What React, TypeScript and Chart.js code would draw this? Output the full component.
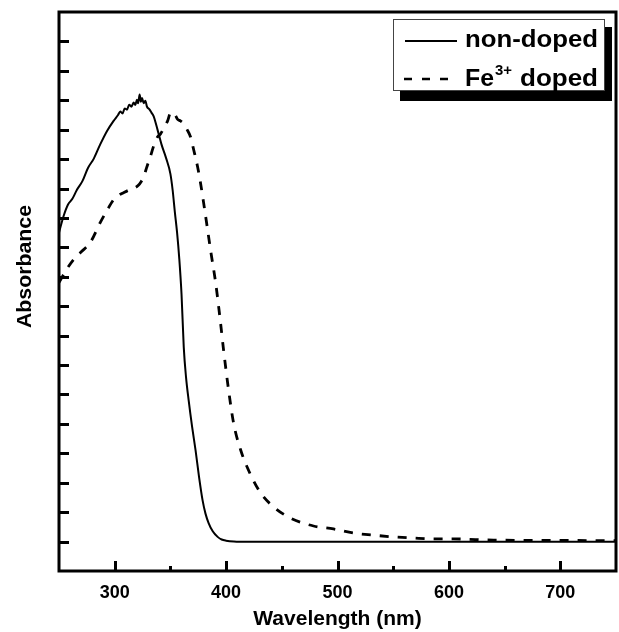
import React, { useEffect, useRef } from "react";
import { Chart, registerables } from "chart.js";

Chart.register(...registerables);

// ---- data ----
const waveNonDoped = [
  250, 254, 258, 262, 266, 271, 276, 281, 287, 293, 299, 303, 305, 307, 309, 311, 313, 315,
  317, 318.5, 320, 321, 322.4, 323.5, 324.5, 326, 327.5, 329, 331, 333, 335, 337, 339.5,
  342, 346, 350, 352, 354, 356, 358, 360, 362, 364, 366.4, 369.5, 372.6, 375.7, 378.9,
  381.5, 384.3, 388, 392.4, 396, 400, 407, 420, 500, 600, 750,
];
const absNonDoped = [
  11.5, 12.05, 12.45, 12.65, 12.95, 13.25, 13.7, 14.0, 14.5, 14.95, 15.3, 15.5, 15.62, 15.55,
  15.72, 15.68, 15.85, 15.78, 15.92, 15.84, 16.02, 15.9, 16.2, 15.95, 16.08, 15.9, 15.98,
  15.78, 15.7, 15.58, 15.45, 15.2, 14.85, 14.5, 14.05, 13.5, 12.95, 12.2, 11.5, 10.6, 9.4,
  7.6, 6.6, 5.8, 4.9, 4.1, 3.2, 2.4, 1.95, 1.63, 1.35, 1.16, 1.07, 1.03, 1.0, 0.99, 0.99,
  0.99, 0.99,
];
const waveFeDoped = [
  250, 256, 263, 270, 278, 287, 293, 299, 304, 308, 313, 317, 321, 324, 326, 329, 332, 335,
  338.6, 341, 344, 347.5, 350, 352, 354, 356.5, 359, 362, 365, 368, 371, 374.4, 377, 379.8,
  383, 386, 390.6, 395, 397.7, 402.2, 406.7, 413, 422, 431, 442.6, 457.8, 478.5, 496.4,
  514.4, 532, 550, 568, 586, 604, 640, 700, 750,
];
const absFeDoped = [
  9.8, 10.2, 10.58, 10.85, 11.16, 11.84, 12.25, 12.62, 12.78, 12.86, 12.95, 13.0, 13.1,
  13.25, 13.4, 13.75, 14.08, 14.45, 14.76, 14.85, 15.05, 15.3, 15.55, 15.45, 15.5, 15.35,
  15.3, 15.2, 15.0, 14.76, 14.3, 13.74, 13.2, 12.52, 11.7, 10.92, 9.8, 8.44, 7.52, 6.16,
  5.03, 4.12, 3.27, 2.65, 2.18, 1.8, 1.53, 1.43, 1.29, 1.22, 1.16, 1.12, 1.09, 1.09, 1.05,
  1.04, 1.03,
];

const xMajorTicks = [300, 400, 500, 600, 700];
const xMinorTicks = [350, 450, 550, 650];
const yTicks = [1, 2, 3, 4, 5, 6, 7, 8, 9, 10, 11, 12, 13, 14, 15, 16, 17, 18];

const seriesLabels = ["non-doped", "Fe", "3+", " doped"];
const xTitle = "Wavelength (nm)";
const yTitle = "Absorbance";

const FONT = "'Liberation Sans', Arial, sans-serif";

function fitText(ctx: CanvasRenderingContext2D, text: string, x: number, y: number, width: number) {
  const m = ctx.measureText(text).width;
  const s = width / m;
  ctx.save();
  ctx.translate(x, y);
  ctx.scale(s, 1);
  ctx.fillText(text, 0, 0);
  ctx.restore();
}

const decorPlugin = {
  id: "decor",
  afterDatasetsDraw(chart: any) {
    const { ctx, chartArea, scales } = chart;
    const { left, right, top, bottom } = chartArea;
    const xs = scales.x;
    const ys = scales.y;
    ctx.save();
    ctx.strokeStyle = "#000";
    ctx.lineCap = "butt";
    // ticks (inward)
    ctx.lineWidth = 3;
    ctx.beginPath();
    yTicks.forEach((v) => {
      const py = Math.round(ys.getPixelForValue(v)) + 0.5;
      ctx.moveTo(left, py);
      ctx.lineTo(left + 10, py);
    });
    xMajorTicks.forEach((v) => {
      const px = Math.round(xs.getPixelForValue(v)) + 0.5;
      ctx.moveTo(px, bottom);
      ctx.lineTo(px, bottom - 10);
    });
    xMinorTicks.forEach((v) => {
      const px = Math.round(xs.getPixelForValue(v)) + 0.5;
      ctx.moveTo(px, bottom);
      ctx.lineTo(px, bottom - 5);
    });
    ctx.stroke();
    // frame
    ctx.lineWidth = 3;
    ctx.strokeRect(left, top, right - left, bottom - top);

    // legend
    const bx = right - 223;
    const by = top + 7;
    ctx.fillStyle = "#000";
    ctx.fillRect(bx + 7, by + 8, 212, 74);
    ctx.fillStyle = "#fff";
    ctx.fillRect(bx, by, 212, 72);
    ctx.strokeStyle = "#444";
    ctx.lineWidth = 1;
    ctx.strokeRect(bx + 0.5, by + 0.5, 211, 71);

    ctx.strokeStyle = "#000";
    ctx.lineWidth = 2;
    ctx.beginPath();
    ctx.moveTo(bx + 12, by + 22);
    ctx.lineTo(bx + 64, by + 22);
    ctx.stroke();
    ctx.lineWidth = 2.6;
    ctx.setLineDash([8, 10]);
    ctx.beginPath();
    ctx.moveTo(bx + 11, by + 60);
    ctx.lineTo(bx + 64, by + 60);
    ctx.stroke();
    ctx.setLineDash([]);

    ctx.fillStyle = "#000";
    ctx.textBaseline = "alphabetic";
    ctx.textAlign = "left";
    ctx.font = `bold 24px ${FONT}`;
    fitText(ctx, seriesLabels[0], bx + 72, by + 28, 133);
    fitText(ctx, seriesLabels[1], bx + 72, by + 67, 29);
    fitText(ctx, seriesLabels[3].trim(), bx + 127, by + 67, 78);
    ctx.font = `bold 15px ${FONT}`;
    fitText(ctx, seriesLabels[2], bx + 102, by + 56, 17);

    // y title
    ctx.font = `bold 21px ${FONT}`;
    ctx.textAlign = "left";
    ctx.textBaseline = "middle";
    ctx.save();
    ctx.translate(25, (top + bottom) / 2 - 25);
    ctx.rotate(-Math.PI / 2);
    const w = 123;
    fitText(ctx, yTitle, -w / 2, 0, w);
    ctx.restore();

    ctx.restore();
  },
};

export default function App() {
  const ref = useRef<HTMLCanvasElement | null>(null);
  useEffect(() => {
    if (!ref.current) return;
    const chart = new Chart(ref.current, {
      type: "line",
      data: {
        datasets: [
          {
            label: seriesLabels[0],
            data: waveNonDoped.map((x, i) => ({ x, y: absNonDoped[i] })),
            borderColor: "#000",
            borderWidth: 2,
            pointRadius: 0,
            cubicInterpolationMode: "monotone",
            fill: false,
          },
          {
            label: seriesLabels[1] + seriesLabels[2] + seriesLabels[3],
            data: waveFeDoped.map((x, i) => ({ x, y: absFeDoped[i] })),
            borderColor: "#000",
            borderWidth: 2.8,
            borderDash: [9, 9],
            pointRadius: 0,
            cubicInterpolationMode: "monotone",
            fill: false,
          },
        ],
      },
      options: {
        responsive: false,
        animation: false,
        devicePixelRatio: 1,
        layout: { padding: { left: 0, top: 12, right: 3, bottom: 0 } },
        plugins: { legend: { display: false }, tooltip: { enabled: false }, title: { display: false } },
        scales: {
          x: {
            type: "linear",
            min: 250,
            max: 750,
            grid: { display: false, drawTicks: false },
            border: { display: false },
            afterBuildTicks: (s: any) => {
              s.ticks = xMajorTicks.map((v) => ({ value: v }));
            },
            afterFit: (s: any) => {
              s.height = 61;
            },
            ticks: {
              color: "#000",
              font: { family: FONT, weight: "bold", size: 18 },
              padding: 11,
              maxRotation: 0,
              autoSkip: false,
            },
            title: {
              display: true,
              text: xTitle,
              color: "#000",
              font: { family: FONT, weight: "bold", size: 21 },
              padding: { top: 0, bottom: 0 },
            },
          },
          y: {
            type: "linear",
            min: 0,
            max: 19,
            grid: { display: false, drawTicks: false },
            border: { display: false },
            ticks: { display: false },
            afterBuildTicks: (s: any) => {
              s.ticks = yTicks.map((v) => ({ value: v }));
            },
            afterFit: (s: any) => {
              s.width = 59;
            },
          },
        },
      },
      plugins: [decorPlugin],
    } as any);
    return () => chart.destroy();
  }, []);
  return (
    <div style={{ position: "absolute", left: 0, top: 0, width: 619, height: 632, background: "#fff" }}>
      <canvas ref={ref} width={619} height={632} style={{ width: 619, height: 632, display: "block" }} />
    </div>
  );
}
